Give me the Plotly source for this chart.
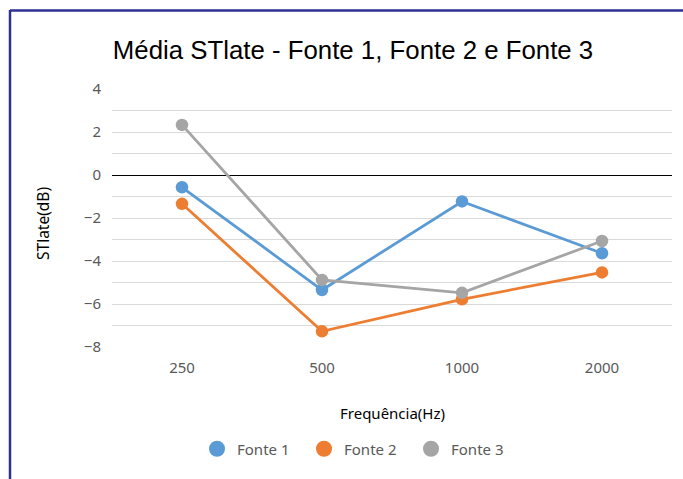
import plotly.graph_objects as go

categories = ["250", "500", "1000", "2000"]
fonte1 = [-0.57, -5.35, -1.23, -3.64]
fonte2 = [-1.34, -7.27, -5.78, -4.53]
fonte3 = [2.33, -4.88, -5.48, -3.07]
series_names = ["Fonte 1", "Fonte 2", "Fonte 3"]
colors = ["#5B9BD5", "#ED7D31", "#A5A5A5"]
y_ticks = [4, 2, 0, -2, -4, -6, -8]

W, H = 683, 479
ml, mr, mt, mb = 112, 11, 89, 132
pw, ph = W - ml - mr, H - mt - mb

def px_x(x):
    return (x - ml) / pw

def px_y(y):
    return (H - mb - y) / ph

fig = go.Figure()
for name, vals, col in zip(series_names, [fonte1, fonte2, fonte3], colors):
    fig.add_trace(go.Scatter(x=categories, y=vals, mode="lines+markers", name=name,
                             line=dict(color=col, width=2.8),
                             marker=dict(color=col, size=12.5), showlegend=False))
for name, col in zip(series_names, colors):
    fig.add_trace(go.Scatter(x=[None], y=[None], mode="markers", name=name,
                             marker=dict(color=col, size=16), showlegend=True))

txtfont = "Noto Sans, Open Sans, sans-serif"

fig.update_layout(
    width=W, height=H,
    margin=dict(l=ml, r=mr, t=mt, b=mb, pad=0),
    paper_bgcolor="white", plot_bgcolor="white",
    title=dict(text="Média STlate - Fonte 1, Fonte 2 e Fonte 3",
               font=dict(family="Liberation Sans, Arial, sans-serif", size=25.8, color="#000000"),
               x=353 / W, xanchor="center", y=1 - 50 / H, yanchor="middle",
               xref="container", yref="container"),
    xaxis=dict(type="category", range=[-0.5, 3.5], showgrid=False, zeroline=False,
               showline=False, ticks="", ticklabelstandoff=10,
               tickfont=dict(family=txtfont, size=15, color="#595959")),
    yaxis=dict(range=[-8, 4], tickvals=y_ticks, showgrid=True, gridcolor="#D9D9D9",
               gridwidth=1, zeroline=True, zerolinecolor="#000000", zerolinewidth=1.3,
               minor=dict(dtick=1, showgrid=True, gridcolor="#D9D9D9", gridwidth=1),
               showline=False, ticks="", ticklabelstandoff=10,
               tickfont=dict(family=txtfont, size=15, color="#595959")),
    legend=dict(orientation="h", x=px_x(197), xanchor="left", y=px_y(449), yanchor="middle",
                font=dict(family=txtfont, size=15, color="#595959"),
                entrywidth=62, entrywidthmode="pixels", itemsizing="trace"),
    showlegend=True,
)

fig.add_annotation(text="Frequência(Hz)", xref="paper", yref="paper",
                   x=px_x(392), y=px_y(413), xanchor="center", yanchor="middle",
                   showarrow=False,
                   font=dict(family=txtfont, size=15, color="#000000"))
fig.add_annotation(text="STlate(dB)", xref="paper", yref="paper",
                   x=px_x(43), y=px_y(224), xanchor="center", yanchor="middle",
                   showarrow=False, textangle=-90,
                   font=dict(family=txtfont, size=15.5, color="#000000"))

border = "#2E3192"
fig.add_shape(type="line", xref="paper", yref="paper",
              x0=px_x(10), x1=px_x(10), y0=px_y(10), y1=px_y(490),
              line=dict(color=border, width=2.5))
fig.add_shape(type="line", xref="paper", yref="paper",
              x0=px_x(10), x1=px_x(690), y0=px_y(10.5), y1=px_y(10.5),
              line=dict(color=border, width=2.5))

fig.write_html("out.html")
